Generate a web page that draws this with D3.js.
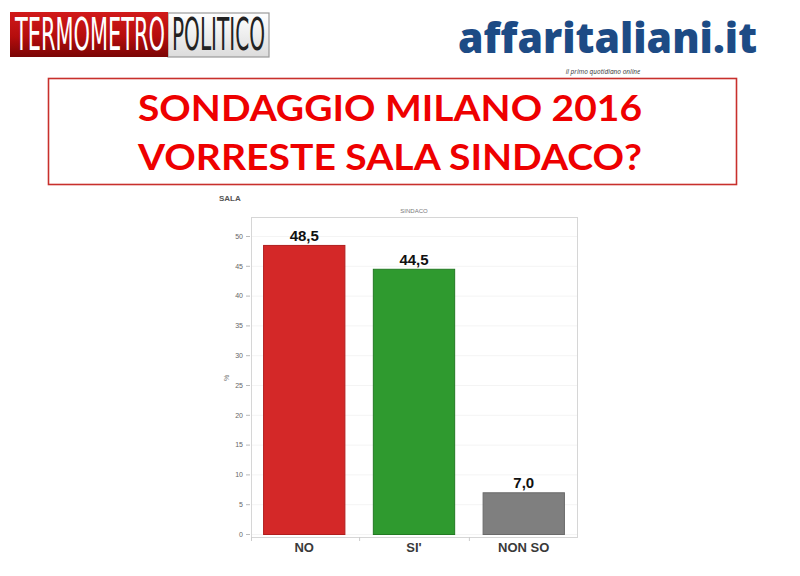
<!DOCTYPE html>
<html>
<head>
<meta charset="utf-8">
<script src="https://cdn.jsdelivr.net/npm/d3@7"></script>
<style>
  body { margin: 0; background: #fff; }
  svg { display: block; }
</style>
</head>
<body>
<svg id="chart" width="800" height="576"></svg>
<script>
// survey data
var categories = ['NO', "SI'", 'NON SO'];
var values = [48.5, 44.5, 7.0];
var barColors = ['#d42828', '#2f9a2f', '#7f7f7f'];
var barStrokes = ['#b01e1e', '#237a23', '#6a6a6a'];
var yTicks = [0, 5, 10, 15, 20, 25, 30, 35, 40, 45, 50];
var titleLines = ['SONDAGGIO MILANO 2016', 'VORRESTE SALA SINDACO?'];

var svg = d3.select('#chart');

// --- header logos ---
var defs = svg.append('defs');
var redGrad = defs.append('linearGradient').attr('id', 'redGrad')
    .attr('x1', 0).attr('y1', 0).attr('x2', 0).attr('y2', 1);
redGrad.append('stop').attr('offset', '0%').attr('stop-color', '#d11a1a');
redGrad.append('stop').attr('offset', '55%').attr('stop-color', '#b50d0d');
redGrad.append('stop').attr('offset', '100%').attr('stop-color', '#7a0505');
var greyGrad = defs.append('linearGradient').attr('id', 'greyGrad')
    .attr('x1', 0).attr('y1', 0).attr('x2', 0).attr('y2', 1);
greyGrad.append('stop').attr('offset', '0%').attr('stop-color', '#ffffff');
greyGrad.append('stop').attr('offset', '100%').attr('stop-color', '#dcdcdc');

var logo = svg.append('g');
logo.append('rect').attr('x', 168).attr('y', 13).attr('width', 101).attr('height', 44)
    .attr('fill', 'url(#greyGrad)').attr('stroke', '#9a9a9a').attr('stroke-width', 1.2);
logo.append('rect').attr('x', 10).attr('y', 12).attr('width', 158).attr('height', 45)
    .attr('fill', 'url(#redGrad)');
// condensed wordmark: small font stretched vertically
logo.append('text').attr('transform', 'translate(15,50) scale(1,1.72)')
    .attr('textLength', 150).attr('lengthAdjust', 'spacingAndGlyphs')
    .style('font-family', '"Liberation Sans Narrow", "DejaVu Sans Condensed", sans-serif')
    .style('font-size', '26px').style('fill', '#fff')
    .text('TERMOMETRO');
logo.append('text').attr('transform', 'translate(172,50) scale(1,1.72)')
    .attr('textLength', 93).attr('lengthAdjust', 'spacingAndGlyphs')
    .style('font-family', '"Liberation Sans Narrow", "DejaVu Sans Condensed", sans-serif')
    .style('font-size', '26px').style('fill', '#222')
    .text('POLITICO');

svg.append('text').attr('x', 458).attr('y', 53)
    .attr('textLength', 299).attr('lengthAdjust', 'spacingAndGlyphs')
    .style('font-family', '"Open Sans", sans-serif').style('font-weight', 800)
    .style('font-size', '42px').style('fill', '#1d4b85')
    .text('affaritaliani.it');
svg.append('text').attr('x', 603).attr('y', 74).attr('text-anchor', 'middle')
    .style('font-family', '"Open Sans", sans-serif').style('font-style', 'italic')
    .style('font-size', '6.5px').style('fill', '#333')
    .text('il primo quotidiano online');

// --- title box ---
svg.append('rect').attr('x', 48.5).attr('y', 78.5).attr('width', 688).attr('height', 106)
    .attr('fill', '#fff').attr('stroke', '#c8302c').attr('stroke-width', 1.6);
svg.selectAll('.title-line').data(titleLines).enter().append('text')
    .attr('class', 'title-line')
    .attr('x', 390).attr('y', function(d, i) { return 121 + i * 49; })
    .attr('text-anchor', 'middle')
    .attr('textLength', 504).attr('lengthAdjust', 'spacingAndGlyphs')
    .style('font-family', 'Lato, "Open Sans", sans-serif').style('font-weight', 700)
    .style('font-size', '37px').style('fill', '#ee0000')
    .text(function(d) { return d; });

// --- chart ---
var frame = {left: 251, top: 217, right: 577, bottom: 537};

var x = d3.scaleBand()
    .domain(categories)
    .range([frame.left, frame.right])
    .paddingInner(0.25)
    .paddingOuter(0.11);

var y = d3.scaleLinear()
    .domain([0, 50])
    .range([534, 236]);

svg.append('text').attr('x', 219).attr('y', 201)
    .style('font-family', '"Liberation Sans", Arial, sans-serif').style('font-weight', 700)
    .style('font-size', '8px').style('fill', '#555')
    .text('SALA');
svg.append('text').attr('x', 414).attr('y', 213).attr('text-anchor', 'middle')
    .style('font-family', '"Liberation Sans", Arial, sans-serif')
    .style('font-size', '6px').style('fill', '#777')
    .text('SINDACO');

// faint grid
svg.append('g').selectAll('line').data(yTicks).enter().append('line')
    .attr('x1', frame.left).attr('x2', frame.right)
    .attr('y1', function(d) { return y(d) + 0.5; })
    .attr('y2', function(d) { return y(d) + 0.5; })
    .attr('stroke', '#f4f4f4');

svg.append('rect')
    .attr('x', frame.left + 0.5).attr('y', frame.top + 0.5)
    .attr('width', frame.right - frame.left).attr('height', frame.bottom - frame.top)
    .attr('fill', 'none').attr('stroke', '#d6d6d6');

var yAxis = svg.append('g')
    .attr('transform', 'translate(' + (frame.left - 1) + ',0)')
    .call(d3.axisLeft(y).tickValues(yTicks).tickSize(4).tickPadding(3));
yAxis.select('.domain').remove();
yAxis.selectAll('line').attr('stroke', '#bbb');
yAxis.selectAll('text')
    .style('font-family', '"Liberation Sans", Arial, sans-serif')
    .style('font-size', '7px').style('fill', '#666');

svg.append('text')
    .attr('transform', 'translate(229,378) rotate(-90)')
    .attr('text-anchor', 'middle')
    .style('font-family', '"Liberation Sans", Arial, sans-serif')
    .style('font-size', '7px').style('fill', '#777')
    .text('%');

// category separators below the frame
var seps = [frame.left].concat(categories.slice(1).map(function(c) {
    return x(c) - x.step() * x.paddingInner() / 2;
}));
svg.append('g').selectAll('line').data(seps).enter().append('line')
    .attr('x1', function(d) { return d + 0.5; }).attr('x2', function(d) { return d + 0.5; })
    .attr('y1', frame.bottom).attr('y2', frame.bottom + 4)
    .attr('stroke', '#ccc');

var bars = svg.append('g').selectAll('g').data(values).enter().append('g');
bars.append('rect')
    .attr('x', function(d, i) { return x(categories[i]) + 0.5; })
    .attr('y', function(d) { return y(d) + 0.5; })
    .attr('width', x.bandwidth() - 1)
    .attr('height', function(d) { return y(0) - y(d); })
    .attr('fill', function(d, i) { return barColors[i]; })
    .attr('stroke', function(d, i) { return barStrokes[i]; });

bars.append('text')
    .attr('x', function(d, i) { return x(categories[i]) + x.bandwidth() / 2; })
    .attr('y', function(d) { return y(d) - 4; })
    .attr('text-anchor', 'middle')
    .style('font-family', '"Liberation Sans", Arial, sans-serif').style('font-weight', 700)
    .style('font-size', '15px').style('fill', '#111')
    .text(function(d) { return d.toFixed(1).replace('.', ','); });

svg.append('g').selectAll('text').data(categories).enter().append('text')
    .attr('x', function(d) { return x(d) + x.bandwidth() / 2; })
    .attr('y', 552)
    .attr('text-anchor', 'middle')
    .style('font-family', '"Liberation Sans", Arial, sans-serif').style('font-weight', 700)
    .style('font-size', '13px').style('fill', '#3a3a3a')
    .text(function(d) { return d; });
</script>
</body>
</html>
